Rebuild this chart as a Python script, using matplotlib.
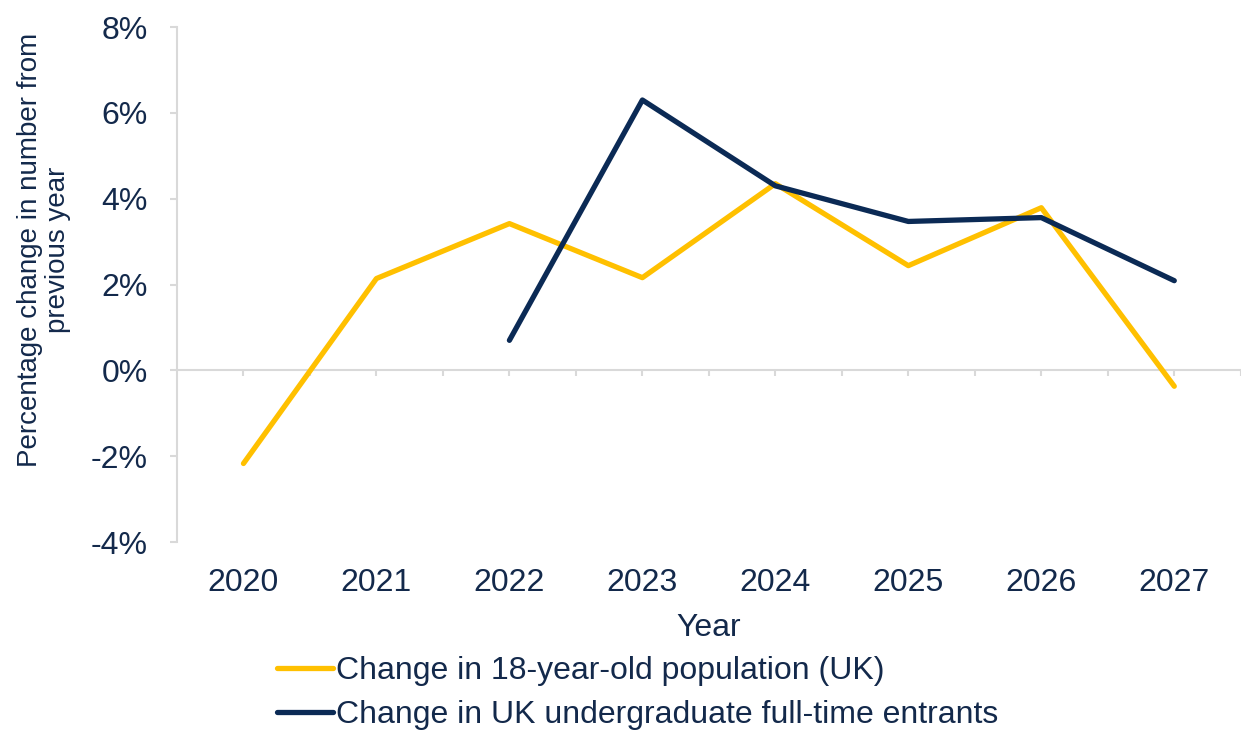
import numpy as np
import matplotlib.pyplot as plt
from matplotlib.ticker import FuncFormatter, MultipleLocator

plt.rcParams['font.family'] = ['Liberation Sans', 'DejaVu Sans']

years = [2020, 2021, 2022, 2023, 2024, 2025, 2026, 2027]
pop_change = [-2.17, 2.14, 3.42, 2.16, 4.35, 2.44, 3.79, -0.37]
entrant_years = [2022, 2023, 2024, 2025, 2026, 2027]
entrant_change = [0.70, 6.30, 4.30, 3.47, 3.56, 2.09]

navy = '#0b2a55'
gold = '#ffc000'
grey = '#d9d9d9'
text_col = '#13294b'

fig = plt.figure(figsize=(12.42, 7.31), dpi=100)
ax = fig.add_axes([0.1425, 0.2585, 0.8565, 0.7045])

ax.plot(years, pop_change, color=gold, lw=3.8, solid_capstyle='round', solid_joinstyle='round',
        label='Change in 18-year-old population (UK)')
ax.plot(entrant_years, entrant_change, color=navy, lw=3.8, solid_capstyle='round', solid_joinstyle='round',
        label='Change in UK undergraduate full-time entrants')

ax.set_xlim(2019.5, 2027.5)
ax.set_ylim(-4, 8)
ax.yaxis.set_major_locator(MultipleLocator(2))
ax.yaxis.set_major_formatter(FuncFormatter(lambda v, p: f'{v:.0f}%'))

# category axis sits at zero, labels stay at the bottom
ax.spines['top'].set_visible(False)
ax.spines['right'].set_visible(False)
ax.spines['bottom'].set_visible(False)
ax.spines['left'].set_color(grey)
ax.spines['left'].set_linewidth(1.5)
ax.axhline(0, color=grey, lw=1.5, zorder=0)
ax.vlines(np.arange(2020, 2027.6, 0.5), -0.13, 0, color=grey, lw=1.5, zorder=0)

ax.set_xticks(years)
ax.set_xticklabels([str(y) for y in years])
ax.tick_params(axis='x', length=0, pad=18.5, labelsize=23, labelcolor=text_col)
ax.tick_params(axis='y', length=5, width=1.5, color=grey, pad=16, labelsize=23, labelcolor=text_col)

ax.set_xlabel('Year', fontsize=23, color=text_col, labelpad=11)
ax.set_ylabel('Percentage change in number from\nprevious year', fontsize=20, color=text_col,
              linespacing=1.1)
ax.yaxis.set_label_coords(-0.100, 0.567)

leg = fig.legend(loc='upper left', bbox_to_anchor=(0.223, 0.1025), ncol=1, frameon=False,
                 fontsize=23, handlelength=1.75, handletextpad=0.1, labelspacing=0.45,
                 borderaxespad=0, borderpad=0)
for t in leg.get_texts():
    t.set_color(text_col)

fig.savefig('out.png', dpi=100)
